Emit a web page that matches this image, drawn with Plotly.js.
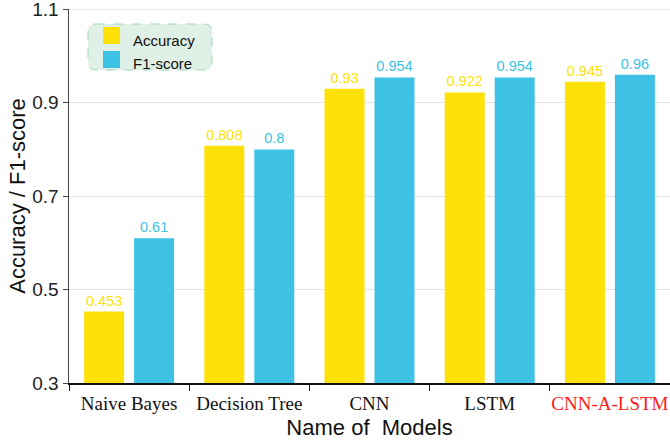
<!DOCTYPE html>
<html><head><meta charset="utf-8">
<script src="https://cdn.plot.ly/plotly-3.0.1.min.js"></script>
<style>body{margin:0;padding:0;background:#fff}#chart{width:670px;height:442px}</style>
</head><body><div id="chart"></div>
<script>
var models = ["Naive Bayes", "Decision Tree", "CNN", "LSTM", "CNN-A-LSTM"];
var tickLabels = ["Naive Bayes", "Decision Tree", "CNN", "LSTM", "<span style=\"color:#ff1a1a\">CNN-A-LSTM</span>"];
var accuracy = [0.453, 0.808, 0.93, 0.922, 0.945];
var f1score = [0.61, 0.8, 0.954, 0.954, 0.96];
var yTicks = [0.3, 0.5, 0.7, 0.9, 1.1];

var yellow = "#FFE10A", blue = "#3DC2E6";
var traces = [
  {type:"bar", name:"Accuracy", x:models, y:accuracy, marker:{color:yellow},
   text:accuracy.map(String), textposition:"outside", cliponaxis:false,
   textfont:{family:"Arial, Liberation Sans", size:14.5, color:yellow}, showlegend:false},
  {type:"bar", name:"F1-score", x:models, y:f1score, marker:{color:blue},
   text:f1score.map(String), textposition:"outside", cliponaxis:false,
   textfont:{family:"Arial, Liberation Sans", size:14.5, color:blue}, showlegend:false}
];
function px2x(p){return (p-69)/601;}
function py2y(p){return (383-p)/374;}
var x0=px2x(88), x1=px2x(212), y0=py2y(70), y1=py2y(24), rx=8/601, ry=8/374;
var boxPath = "M"+(x0+rx)+","+y1+" L"+(x1-rx)+","+y1+" Q"+x1+","+y1+" "+x1+","+(y1-ry)+
  " L"+x1+","+(y0+ry)+" Q"+x1+","+y0+" "+(x1-rx)+","+y0+" L"+(x0+rx)+","+y0+
  " Q"+x0+","+y0+" "+x0+","+(y0+ry)+" L"+x0+","+(y1-ry)+" Q"+x0+","+y1+" "+(x0+rx)+","+y1+" Z";
var layout = {
  width:670, height:442,
  margin:{l:69, r:0, t:9, b:59},
  paper_bgcolor:"#fff", plot_bgcolor:"#fff",
  barmode:"group", bargap:0.168, bargroupgap:0.2,
  font:{family:"Arial, Liberation Sans", color:"#222"},
  xaxis:{
    tickmode:"array", tickvals:models, ticktext:tickLabels, tickangle:0, automargin:false,
    tickfont:{family:"Times New Roman, Liberation Serif", size:19, color:"#111"},
    ticklabelstandoff:3,
    showline:true, linecolor:"#111", linewidth:1.5, ticks:"outside", tickson:"boundaries",
    ticklen:6, tickcolor:"#111", showgrid:false,
    title:{text:"Name of  Models", font:{family:"Arial, Liberation Sans", size:22, color:"#111"}, standoff:6}
  },
  yaxis:{
    range:[0.3,1.1005], tickmode:"array", tickvals:yTicks, ticktext:yTicks.map(String),
    ticklabeloverflow:"allow", automargin:false,
    tickfont:{family:"Arial, Liberation Sans", size:19, color:"#222"},
    showline:true, linecolor:"#444", linewidth:1.5, ticks:"outside", ticklen:5, tickcolor:"#444",
    showgrid:true, gridcolor:"#e2e2e2", gridwidth:1, zeroline:false,
    title:{text:"Accuracy / F1-score", font:{family:"Arial, Liberation Sans", size:22, color:"#111"}, standoff:0}
  },
  shapes:[
    {type:"line", xref:"paper", yref:"y", x0:0, x1:1, y0:yTicks[yTicks.length-1], y1:yTicks[yTicks.length-1],
     line:{color:"#e2e2e2", width:1}, layer:"below"},
    {type:"path", xref:"paper", yref:"paper", path:boxPath, fillcolor:"#dff0e6",
     line:{color:"#9fd6b4", width:1, dash:"dash"}},
    {type:"rect", xref:"paper", yref:"paper", x0:px2x(103), x1:px2x(120), y0:py2y(44), y1:py2y(27),
     fillcolor:yellow, line:{width:0}},
    {type:"rect", xref:"paper", yref:"paper", x0:px2x(103), x1:px2x(120), y0:py2y(68), y1:py2y(51),
     fillcolor:blue, line:{width:0}}
  ],
  annotations:[
    {xref:"paper", yref:"paper", x:px2x(131), y:py2y(40), xanchor:"left", yanchor:"middle",
     text:"Accuracy", showarrow:false, font:{family:"Arial, Liberation Sans", size:15, color:"#111"}},
    {xref:"paper", yref:"paper", x:px2x(131), y:py2y(63), xanchor:"left", yanchor:"middle",
     text:"F1-score", showarrow:false, font:{family:"Arial, Liberation Sans", size:15, color:"#111"}}
  ]
};
Plotly.newPlot("chart", traces, layout, {displayModeBar:false, staticPlot:true});
</script></body></html>
